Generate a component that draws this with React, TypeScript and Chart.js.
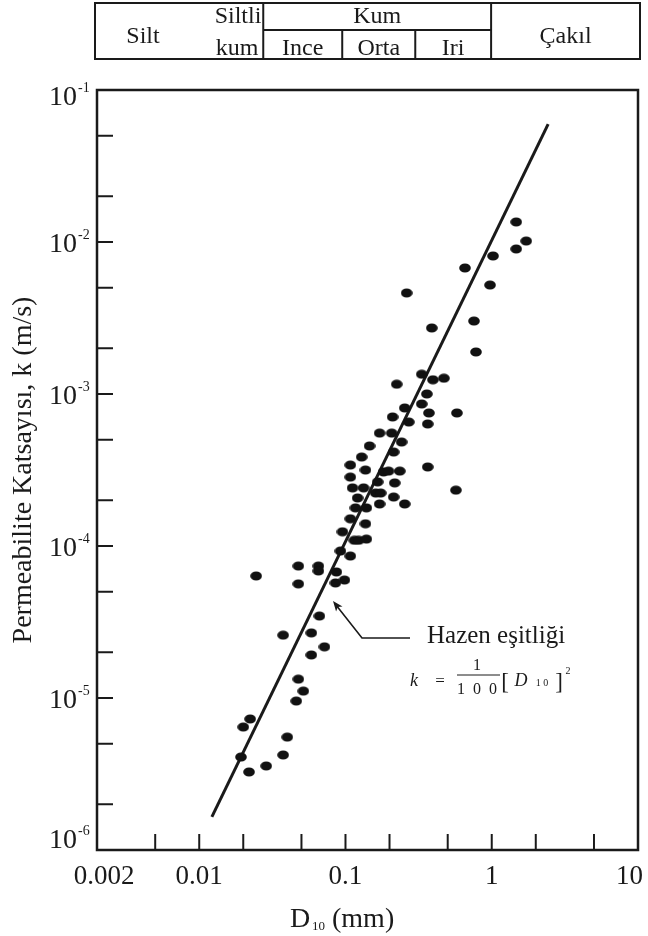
import React, { useEffect, useRef } from "react";
import { Chart, registerables } from "chart.js";

Chart.register(...registerables);

// ---- data ----
const diameterMm = [
  1.47, 1.72, 1.47, 1.02, 0.656, 0.973, 0.262, 0.756, 0.389, 0.78,
  0.332, 0.396, 0.471, 0.224, 0.36, 0.332, 0.254, 0.372, 0.578, 0.21,
  0.271, 0.365, 0.171, 0.207, 0.242, 0.146, 0.2135, 0.129, 0.108, 0.365,
  0.137, 0.182, 0.197, 0.235, 0.108, 0.166, 0.217, 0.1117, 0.133, 0.569,
  0.161, 0.174, 0.121, 0.2135, 0.171, 0.254, 0.117, 0.139, 0.108, 0.137,
  0.0954, 0.115, 0.123, 0.139, 0.0924, 0.108, 0.0476, 0.0653, 0.0653, 0.0867,
  0.0245, 0.0984, 0.0854, 0.0476, 0.0663, 0.0375, 0.0584, 0.0718, 0.0584, 0.0476,
  0.0515, 0.0461, 0.0223, 0.02, 0.04, 0.0193, 0.0375, 0.0287, 0.0219,
];
const permeability = [
  0.01354, 0.01015, 0.009, 0.00809, 0.00675, 0.00521, 0.00462, 0.00302, 0.00272, 0.00189,
  0.00135, 0.00124, 0.00127, 0.00116, 0.001, 0.00086, 0.000809, 0.00075, 0.00075, 0.000706,
  0.000654, 0.000635, 0.000553, 0.000553, 0.000483, 0.000455, 0.000415, 0.000385, 0.000341, 0.000331,
  0.000316, 0.000307, 0.000311, 0.000311, 0.000284, 0.000264, 0.00026, 0.000241, 0.000241, 0.000233,
  0.000223, 0.000223, 0.000207, 0.00021, 0.000189, 0.000189, 0.000178, 0.000178, 0.000151, 0.00014,
  0.000124, 0.000109, 0.000109, 0.000111, 0.0000927, 0.0000859, 0.0000738, 0.0000738, 0.0000685, 0.0000675,
  0.0000635, 0.0000597, 0.0000571, 0.0000563, 0.0000346, 0.0000259, 0.0000268, 0.0000217, 0.0000192, 0.0000133,
  0.0000111, 0.00000955, 0.00000728, 0.00000644, 0.00000553, 0.00000409, 0.00000422, 0.00000357, 0.00000326,
];
const hazenD = [0.0122, 2.43];
const hazenK = [0.00000165, 0.0597];

const xTickValues = [0.002, 0.005, 0.01, 0.02, 0.05, 0.1, 0.2, 0.5, 1, 2, 5, 10];
const xTickLabels = ["0.002", "", "0.01", "", "", "0.1", "", "", "1", "", "", "10"];
const yTickValues = [
  1e-6, 2e-6, 5e-6, 1e-5, 2e-5, 5e-5, 1e-4, 2e-4, 5e-4, 1e-3, 2e-3, 5e-3, 1e-2, 2e-2, 5e-2, 1e-1,
];
const yTickExponents = ["-6", "", "", "-5", "", "", "-4", "", "", "-3", "", "", "-2", "", "", "-1"];

// soil classification band (grain size limits in mm)
const soilLimits = [0.0274, 0.095, 0.3, 0.99];
const soilTop = ["Silt", "Siltli", "Kum", "Çakıl"];
const sandSub = ["Ince", "Orta", "Iri"];

const INK = "#1a1a1a";
const SERIF = '"Liberation Serif", "Times New Roman", Times, serif';

function makeDot(): HTMLCanvasElement {
  const c = document.createElement("canvas");
  c.width = 12;
  c.height = 10;
  const g = c.getContext("2d")!;
  g.fillStyle = "#111";
  g.beginPath();
  g.ellipse(6, 5, 5.8, 4.6, 0, 0, Math.PI * 2);
  g.fill();
  return c;
}

const decorPlugin = {
  id: "decor",
  afterDraw(chart: any) {
    const { ctx, chartArea: a, scales } = chart;
    const xs = scales.x;
    const ys = scales.y;
    const line = (x1: number, y1: number, x2: number, y2: number) => {
      ctx.beginPath();
      ctx.moveTo(x1, y1);
      ctx.lineTo(x2, y2);
      ctx.stroke();
    };
    ctx.save();
    ctx.strokeStyle = INK;
    ctx.fillStyle = INK;

    // frame
    ctx.lineWidth = 2.5;
    ctx.strokeRect(a.left, a.top, a.right - a.left, a.bottom - a.top);

    // inward ticks
    ctx.lineWidth = 2;
    xTickValues.forEach((v) => {
      const px = xs.getPixelForValue(v);
      if (px > a.left + 2 && px < a.right - 2) line(px, a.bottom, px, a.bottom - 16);
    });
    yTickValues.forEach((v) => {
      const py = ys.getPixelForValue(v);
      if (py > a.top + 2 && py < a.bottom - 2) line(a.left, py, a.left + 16, py);
    });

    // x tick labels
    ctx.font = `27px ${SERIF}`;
    ctx.textAlign = "center";
    ctx.textBaseline = "alphabetic";
    xTickValues.forEach((v, i) => {
      const lab = xTickLabels[i];
      if (!lab) return;
      const w = ctx.measureText(lab).width;
      let px = xs.getPixelForValue(v);
      if (i === 0) px += 7;
      else px = Math.min(px, a.right - w / 2 + 5);
      ctx.fillText(lab, px, 884);
    });

    // y tick labels 10^n
    yTickValues.forEach((v, i) => {
      const e = yTickExponents[i];
      if (!e) return;
      let cy = ys.getPixelForValue(v) + 3;
      cy = Math.max(a.top + 8, Math.min(cy, a.bottom - 9));
      ctx.font = `28px ${SERIF}`;
      ctx.textAlign = "right";
      ctx.textBaseline = "middle";
      ctx.fillText("10", 77, cy);
      ctx.font = `14px ${SERIF}`;
      ctx.textAlign = "left";
      ctx.fillText(e, 78, cy - 10);
    });

    // axis titles
    ctx.save();
    ctx.translate(24, (a.top + a.bottom) / 2);
    ctx.rotate(-Math.PI / 2);
    ctx.font = `28px ${SERIF}`;
    ctx.textAlign = "center";
    ctx.textBaseline = "middle";
    ctx.fillText("Permeabilite Katsayısı, k (m/s)", 0, 0);
    ctx.restore();

    ctx.textBaseline = "alphabetic";
    ctx.textAlign = "left";
    ctx.font = `28px ${SERIF}`;
    ctx.fillText("D", 290, 927);
    ctx.font = `13px ${SERIF}`;
    ctx.fillText("10", 312, 930);
    ctx.font = `28px ${SERIF}`;
    ctx.fillText("(mm)", 332, 927);

    // soil classification table
    const tTop = 3, tMid = 30, tBot = 59;
    const left = a.left - 2;
    const right = a.right + 2;
    const b = soilLimits.map((v) => xs.getPixelForValue(v));
    ctx.lineWidth = 2;
    ctx.strokeRect(left, tTop, right - left, tBot - tTop);
    line(b[0], tTop, b[0], tBot);
    line(b[3], tTop, b[3], tBot);
    line(b[0], tMid, b[3], tMid);
    line(b[1], tMid, b[1], tBot);
    line(b[2], tMid, b[2], tBot);
    ctx.font = `24px ${SERIF}`;
    ctx.textAlign = "center";
    ctx.fillText(soilTop[0], 143, 43);
    ctx.fillText(soilTop[1], 238, 23);
    ctx.fillText("kum", 237, 55);
    ctx.fillText(soilTop[2], (b[0] + b[3]) / 2, 23);
    ctx.fillText(sandSub[0], (b[0] + b[1]) / 2, 55);
    ctx.fillText(sandSub[1], (b[1] + b[2]) / 2, 55);
    ctx.fillText(sandSub[2], (b[2] + b[3]) / 2, 55);
    ctx.fillText(soilTop[3], (b[3] + right) / 2, 43);

    // Hazen annotation arrow
    ctx.lineWidth = 1.6;
    ctx.beginPath();
    ctx.moveTo(410, 638);
    ctx.lineTo(362, 638);
    ctx.lineTo(336, 605);
    ctx.stroke();
    const tipX = 333, tipY = 601;
    const ang = Math.atan2(601 - 638, 333 - 362);
    const hl = 11, hw = 0.38;
    ctx.beginPath();
    ctx.moveTo(tipX, tipY);
    ctx.lineTo(tipX - hl * Math.cos(ang - hw), tipY - hl * Math.sin(ang - hw));
    ctx.lineTo(tipX - hl * 0.7 * Math.cos(ang), tipY - hl * 0.7 * Math.sin(ang));
    ctx.lineTo(tipX - hl * Math.cos(ang + hw), tipY - hl * Math.sin(ang + hw));
    ctx.closePath();
    ctx.fill();

    ctx.textAlign = "left";
    ctx.font = `25px ${SERIF}`;
    ctx.fillText("Hazen eşitliği", 427, 643);

    // formula k = 1/100 [D10]^2
    ctx.font = `italic 18px ${SERIF}`;
    ctx.textAlign = "center";
    ctx.fillText("k", 414, 686);
    ctx.font = `17px ${SERIF}`;
    ctx.fillText("=", 440, 686);
    ctx.font = `16px ${SERIF}`;
    ctx.fillText("1", 477, 670);
    ctx.fillText("1  0  0", 477, 694);
    ctx.lineWidth = 1;
    line(457, 675, 500, 675);
    ctx.font = `23px ${SERIF}`;
    ctx.fillText("[", 505, 689);
    ctx.fillText("]", 559, 689);
    ctx.font = `italic 18px ${SERIF}`;
    ctx.fillText("D", 521, 686);
    ctx.font = `10px ${SERIF}`;
    ctx.fillText("1 0", 542, 686);
    ctx.fillText("2", 568, 674);

    ctx.restore();
  },
};

export default function App() {
  const ref = useRef<HTMLCanvasElement | null>(null);

  useEffect(() => {
    document.body.style.margin = "0";
    const canvas = ref.current;
    if (!canvas) return;
    const dot = makeDot();
    const points = diameterMm.map((d, i) => ({ x: d, y: permeability[i] }));
    const hazen = hazenD.map((d, i) => ({ x: d, y: hazenK[i] }));

    const chart = new Chart(canvas, {
      type: "scatter",
      data: {
        datasets: [
          {
            label: "Ölçümler",
            data: points,
            pointStyle: dot as any,
            pointRadius: 6,
            backgroundColor: "#111",
            borderColor: "#111",
          },
          {
            label: "Hazen eşitliği",
            data: hazen,
            showLine: true,
            borderColor: INK,
            borderWidth: 3,
            pointRadius: 0,
            borderCapStyle: "butt",
          },
        ],
      },
      options: {
        responsive: false,
        maintainAspectRatio: false,
        animation: false,
        events: [],
        layout: { padding: { left: 97, right: 10, top: 90, bottom: 86 } },
        plugins: {
          legend: { display: false },
          tooltip: { enabled: false },
          title: { display: false },
        },
        scales: {
          x: {
            type: "logarithmic",
            min: 0.002,
            max: 10,
            ticks: { display: false },
            grid: { display: false },
            border: { display: false },
            afterFit: (s: any) => {
              s.height = 0;
            },
          },
          y: {
            type: "logarithmic",
            min: 1e-6,
            max: 1e-1,
            ticks: { display: false },
            grid: { display: false },
            border: { display: false },
            afterFit: (s: any) => {
              s.width = 0;
            },
          },
        },
      },
      plugins: [decorPlugin],
    });
    return () => chart.destroy();
  }, []);

  return (
    <div style={{ width: 648, height: 936, position: "relative", background: "#fff" }}>
      <canvas ref={ref} width={648} height={936} style={{ display: "block" }} />
    </div>
  );
}
